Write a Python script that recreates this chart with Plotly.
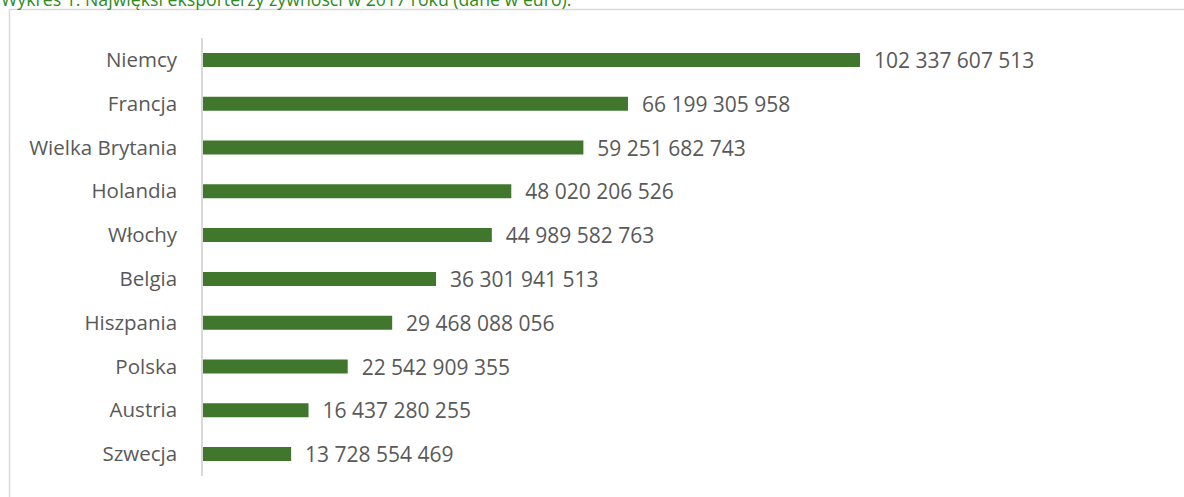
import plotly.graph_objects as go

countries = ["Niemcy", "Francja", "Wielka Brytania", "Holandia", "Włochy",
             "Belgia", "Hiszpania", "Polska", "Austria", "Szwecja"]
values = [102337607513, 66199305958, 59251682743, 48020206526, 44989582763,
          36301941513, 29468088056, 22542909355, 16437280255, 13728554469]
title_text = "Wykres 1. Najwięksi eksporterzy żywności w 2017 roku (dane w euro)."

def fmt(v):
    return f"{v:,}".replace(",", " ")

labels = ["\u00a0\u00a0" + fmt(v) for v in values]

W, H = 1184, 497
L, R, T, B = 203, 14, 38, 21
pw, ph = W - L - R, H - T - B

def px(x):
    return (x - L) / pw

def py(y):
    return (H - B - y) / ph

fig = go.Figure(go.Bar(
    x=values, y=countries, orientation="h",
    marker=dict(color="#41772c", line=dict(width=0)),
    width=0.32,
    text=labels, textposition="outside", cliponaxis=False, constraintext="none",
    textfont=dict(family="Open Sans", size=21, color="#595959"),
    hoverinfo="skip",
))

fig.update_layout(
    width=W, height=H,
    margin=dict(l=L, r=R, t=T, b=B),
    paper_bgcolor="white", plot_bgcolor="white",
    showlegend=False,
    font=dict(family="Open Sans", size=20.5, color="#595959"),
    xaxis=dict(range=[0, pw / 657 * 102337607513], visible=False, fixedrange=True),
    yaxis=dict(autorange="reversed", showline=True, linecolor="#d9d9d9", linewidth=1.5,
               showgrid=False, ticks="", ticklabelstandoff=20,
               tickfont=dict(family="Open Sans", size=20.5, color="#595959")),
    shapes=[
        dict(type="line", xref="paper", yref="paper", x0=px(9.5), x1=px(W + 5),
             y0=py(9.5), y1=py(9.5), line=dict(color="#d9d9d9", width=1.5)),
        dict(type="line", xref="paper", yref="paper", x0=px(9.5), x1=px(9.5),
             y0=py(9.5), y1=py(H + 5), line=dict(color="#d9d9d9", width=1.5)),
    ],
    annotations=[
        dict(text=title_text, xref="paper", yref="paper", x=px(-1), y=py(-1),
             xanchor="left", yanchor="middle", showarrow=False,
             font=dict(family="Open Sans", size=17.7, color="#2e8a1c")),
    ],
)

fig.write_html("out.html")
